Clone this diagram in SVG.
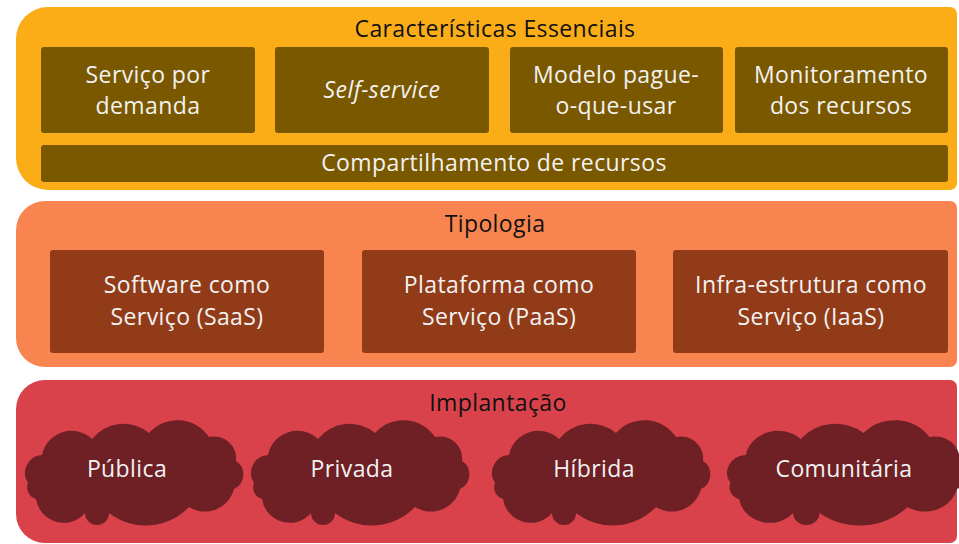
<svg xmlns="http://www.w3.org/2000/svg" width="959" height="544" viewBox="0 0 959 544">
<style>
.t{font-family:"Open Sans","Noto Sans",sans-serif;font-size:23px;letter-spacing:0.4px;text-anchor:middle}
.h{fill:#111111}
.w{fill:#F2F2F2}
.b1{fill:#FBAD18}
.b2{fill:#F8854F}
.b3{fill:#D9424B}
.i1{fill:#7A5800}
.i2{fill:#923B18}
.c{fill:#6E2024}
</style>
<defs>
<path id="cloud" d="M4,62 A18,18 0 0 1 18,34 A30,30 0 0 1 68,18 A40,40 0 0 1 125,12 A38,38 0 0 1 185,16 A22,22 0 0 1 212,40 A16,16 0 0 1 210,68 A30,30 0 0 1 165,86 A60,60 0 0 1 85,92 A12,12 0 0 1 61,92 A28,28 0 0 1 12,78 A12,12 0 0 1 4,62 Z"/>
</defs>
<g id="band-caracteristicas">
<path class="b1" d="M48,7 H950 A7,7 0 0 1 957,14 V183 A7,7 0 0 1 950,190 H48 A32,32 0 0 1 16,158 V39 A32,32 0 0 1 48,7 Z"/>
<text class="t h" x="495" y="37">Características Essenciais</text>
</g>
<g id="servico-demanda">
<rect class="i1" x="41" y="47" width="214" height="86" rx="3"/>
<text class="t w" x="148" y="83">Serviço por</text>
<text class="t w" x="148" y="114">demanda</text>
</g>
<g id="self-service">
<rect class="i1" x="275" y="47" width="214" height="86" rx="3"/>
<text class="t w" x="382" y="98" font-style="italic">Self-service</text>
</g>
<g id="modelo-pague">
<rect class="i1" x="510" y="47" width="213" height="86" rx="3"/>
<text class="t w" x="616" y="83">Modelo pague-</text>
<text class="t w" x="616" y="114">o-que-usar</text>
</g>
<g id="monitoramento">
<rect class="i1" x="735" y="47" width="213" height="86" rx="3"/>
<text class="t w" x="841" y="83">Monitoramento</text>
<text class="t w" x="841" y="114">dos recursos</text>
</g>
<g id="compartilhamento">
<rect class="i1" x="41" y="145" width="907" height="37" rx="3"/>
<text class="t w" x="494" y="171">Compartilhamento de recursos</text>
</g>
<g id="band-tipologia">
<path class="b2" d="M45,201 H950 A7,7 0 0 1 957,208 V360 A7,7 0 0 1 950,367 H45 A29,29 0 0 1 16,338 V230 A29,29 0 0 1 45,201 Z"/>
<text class="t h" x="495" y="232">Tipologia</text>
</g>
<g id="saas">
<rect class="i2" x="50" y="250" width="274" height="103" rx="3"/>
<text class="t w" x="187" y="293">Software como</text>
<text class="t w" x="187" y="325">Serviço (SaaS)</text>
</g>
<g id="paas">
<rect class="i2" x="362" y="250" width="274" height="103" rx="3"/>
<text class="t w" x="499" y="293">Plataforma como</text>
<text class="t w" x="499" y="325">Serviço (PaaS)</text>
</g>
<g id="iaas">
<rect class="i2" x="673" y="250" width="275" height="103" rx="3"/>
<text class="t w" x="811" y="293">Infra-estrutura como</text>
<text class="t w" x="811" y="325">Serviço (IaaS)</text>
</g>
<g id="band-implantacao">
<path class="b3" d="M45,380 H950 A7,7 0 0 1 957,387 V536 A7,7 0 0 1 950,543 H45 A29,29 0 0 1 16,514 V409 A29,29 0 0 1 45,380 Z"/>
<text class="t h" x="498" y="411">Implantação</text>
</g>
<g id="publica">
<use href="#cloud" class="c" transform="translate(24,421)"/>
<text class="t w" x="127" y="477">Pública</text>
</g>
<g id="privada">
<use href="#cloud" class="c" transform="translate(250,421)"/>
<text class="t w" x="352" y="477">Privada</text>
</g>
<g id="hibrida">
<use href="#cloud" class="c" transform="translate(491,421)"/>
<text class="t w" x="594" y="477">Híbrida</text>
</g>
<g id="comunitaria">
<use href="#cloud" class="c" transform="translate(726,421) scale(1.1,1)"/>
<text class="t w" x="844" y="477">Comunitária</text>
</g>
<g id="connectors"></g>
</svg>
